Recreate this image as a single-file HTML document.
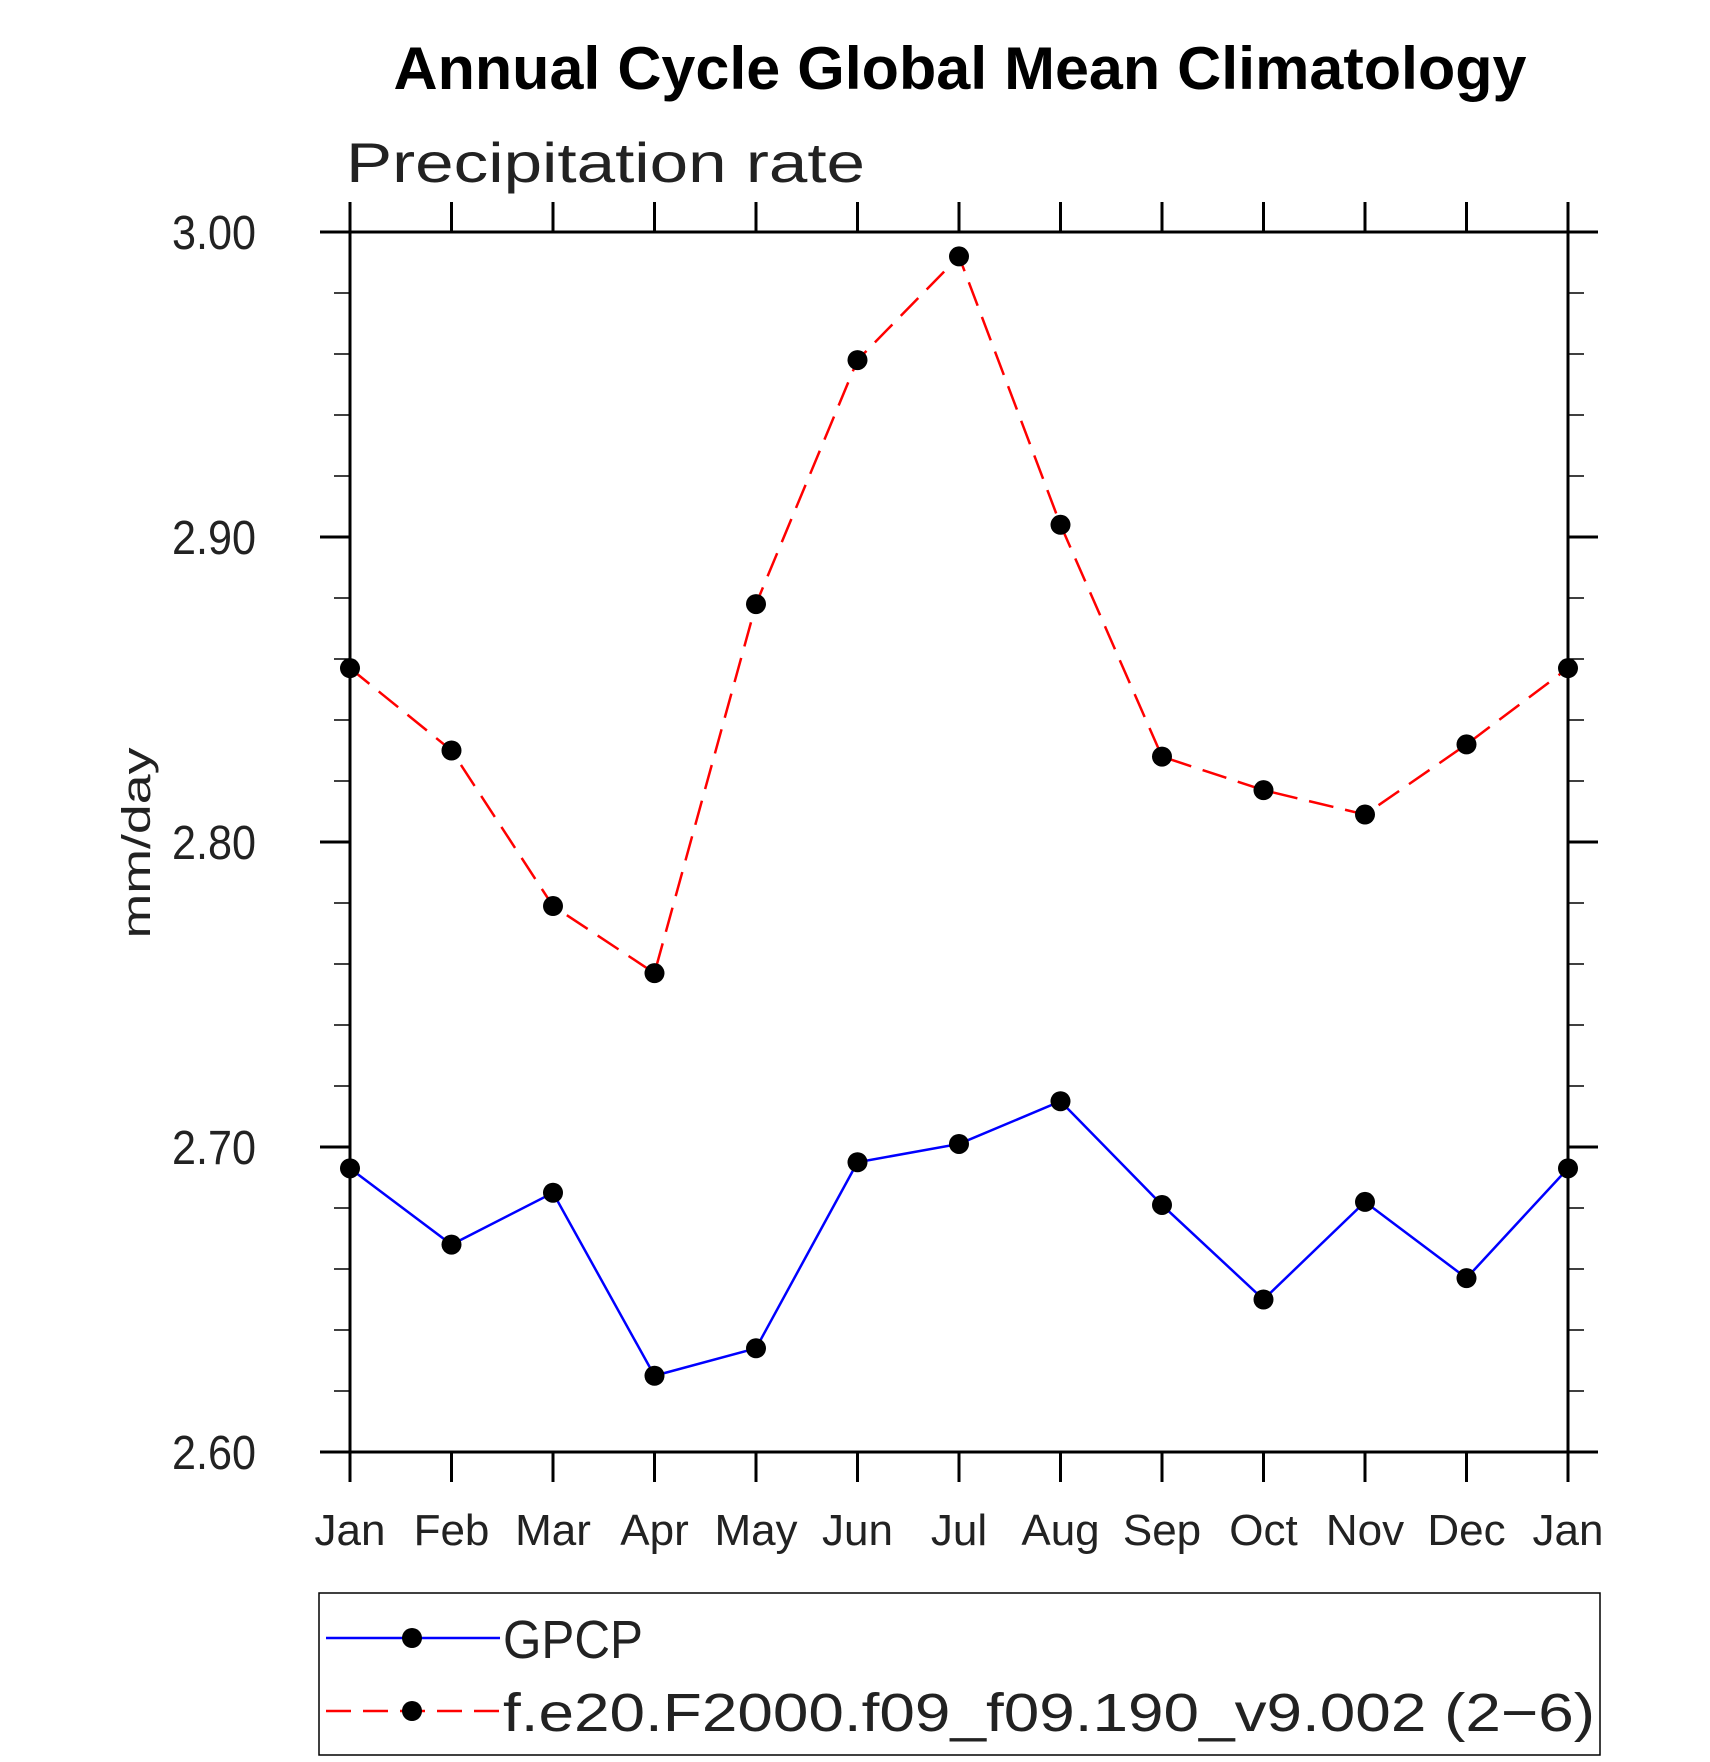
<!DOCTYPE html>
<html><head><meta charset="utf-8"><style>html,body{margin:0;padding:0;background:#fff}svg{display:block}</style></head>
<body>
<svg id="chart" width="1710" height="1762" viewBox="0 0 1710 1762" xmlns="http://www.w3.org/2000/svg" font-family="Liberation Sans, sans-serif">
<text x="960" y="89" text-anchor="middle" font-size="60" font-weight="bold" textLength="1133" lengthAdjust="spacingAndGlyphs">Annual Cycle Global Mean Climatology</text>
<text x="346" y="182" font-size="56" fill="#222" textLength="519" lengthAdjust="spacingAndGlyphs">Precipitation rate</text>
<text transform="translate(150,843) rotate(-90)" text-anchor="middle" font-size="40" fill="#222" textLength="191" lengthAdjust="spacingAndGlyphs">mm/day</text>
<g id="axes"></g>
<g id="series"></g>
<rect x="319" y="1593" width="1281" height="162" fill="none" stroke="#000" stroke-width="1.5"/>
<g>
<line x1="326" y1="1638" x2="500" y2="1638" stroke="#0000ff" stroke-width="2.5"/>
<circle cx="412" cy="1638" r="10" fill="#000"/>
<text x="503" y="1658" font-size="54" fill="#222" textLength="140" lengthAdjust="spacingAndGlyphs">GPCP</text>
</g>
<g>
<line x1="326" y1="1711" x2="500" y2="1711" stroke="#ff0000" stroke-width="2.5" stroke-dasharray="25,12"/>
<circle cx="412" cy="1711" r="10" fill="#000"/>
<text x="503" y="1731" font-size="54" fill="#222" textLength="1092" lengthAdjust="spacingAndGlyphs">f.e20.F2000.f09_f09.190_v9.002 (2−6)</text>
</g>
</svg>
<script>
const months = ["Jan","Feb","Mar","Apr","May","Jun","Jul","Aug","Sep","Oct","Nov","Dec","Jan"];
const gpcpValues = [2.693,2.668,2.685,2.625,2.634,2.695,2.701,2.715,2.681,2.650,2.682,2.657,2.693];
const modelValues = [2.857,2.830,2.779,2.757,2.878,2.958,2.992,2.904,2.828,2.817,2.809,2.832,2.857];
const yTickLabels = ["2.60","2.70","2.80","2.90","3.00"];
const yMin = 2.6, yMax = 3.0;

const NS = "http://www.w3.org/2000/svg";
const L = 350, R = 1568, T = 232, B = 1452;
function xPos(i){ return L + (R - L) * i / (months.length - 1); }
function yPos(v){ return B - (B - T) * (v - yMin) / (yMax - yMin); }
function mk(tag, attrs, parent){
  const e = document.createElementNS(NS, tag);
  for (const k in attrs) e.setAttribute(k, attrs[k]);
  parent.appendChild(e);
  return e;
}
const axes = document.getElementById("axes");
const frame = mk("rect", {x:L, y:T, width:R-L, height:B-T, fill:"none", stroke:"#000", "stroke-width":3}, axes);


months.forEach((m, i) => {
  const x = xPos(i);
  const tb = mk("line", {x1:x, y1:B, x2:x, y2:B+30, stroke:"#000", "stroke-width":3}, axes);
  
  
  const tt = mk("line", {x1:x, y1:T, x2:x, y2:T-30, stroke:"#000", "stroke-width":3}, axes);
  
  
  const t = mk("text", {x:x, y:1545, "text-anchor":"middle", "font-size":44, fill:"#222"}, axes);
  t.textContent = m;
  
  
});
for (let k = 0; k <= 20; k++) {
  const v = yMin + k * 0.02;
  const y = yPos(v);
  const major = (k % 5 === 0);
  const len = major ? 30 : 16;
  const a = mk("line", {x1:L, y1:y, x2:L-len, y2:y, stroke:"#000", "stroke-width": major ? 3 : 1.5}, axes);
  
  
  const b = mk("line", {x1:R, y1:y, x2:R+len, y2:y, stroke:"#000", "stroke-width": major ? 3 : 1.5}, axes);
  
  
}
yTickLabels.forEach(lbl => {
  const t = mk("text", {x:256, y:yPos(parseFloat(lbl)) + 17, "text-anchor":"end", "font-size":48, fill:"#222", textLength:84, lengthAdjust:"spacingAndGlyphs"}, axes);
  t.textContent = lbl;
  
  
});
const series = document.getElementById("series");
function drawSeries(vals, color, dash, name){
  const pts = vals.map((v, i) => xPos(i) + "," + yPos(v)).join(" ");
  const pl = mk("polyline", {points:pts, fill:"none", stroke:color, "stroke-width":2.5, "stroke-dasharray":dash}, series);
  
  
  vals.forEach((v, i) => {
    const c = mk("circle", {cx:xPos(i), cy:yPos(v), r:10, fill:"#000"}, series);
    
    
  });
}
drawSeries(gpcpValues, "#0000ff", "none", "gpcp");
drawSeries(modelValues, "#ff0000", "25,12", "model");
</script>
</body></html>
